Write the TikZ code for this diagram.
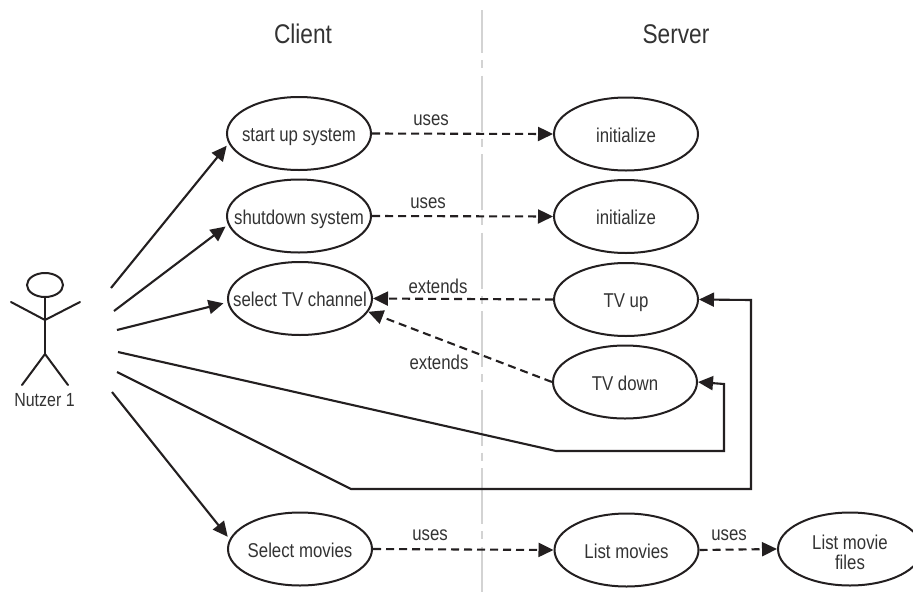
\documentclass[tikz,border=0pt]{standalone}
\usepackage{fontspec}
\setmainfont[FakeStretch=0.84]{Liberation Sans}
\usetikzlibrary{shapes.geometric,arrows.meta}
\definecolor{ink}{HTML}{231F20}
\definecolor{txt}{HTML}{333333}
\definecolor{divider}{HTML}{D3D3D3}
\tikzset{
  casebase/.style={draw=ink,ellipse,line width=2pt,minimum width=144pt,minimum height=73pt,inner sep=0pt},
  usecase/.style={casebase,label={[lbl,text height=18pt,text depth=2pt]center:#1}},
  usecasetwo/.style={casebase,label={[lbl,align=center,yshift=-3pt]center:#1}},
  lbl/.style={inner sep=0pt,font=\fontsize{20}{20}\selectfont,text=txt},
  heading/.style={inner sep=0pt,font=\fontsize{27}{30}\selectfont,text=txt},
  solidarrow/.style={draw=ink,line width=2.1pt,-{Triangle[length=15pt,width=14pt]}},
  dasharrow/.style={draw=ink,line width=2.1pt,dash pattern=on 8pt off 5pt,-{Triangle[length=15pt,width=14pt,sep=0pt]}},
  figure/.style={draw=ink,line width=2pt,line cap=round},
  dividerline/.style={draw=divider,line width=2.2pt,dash pattern=on 56pt off 7pt on 8pt off 7.5pt,dash phase=13pt}
}
\begin{document}
\begin{tikzpicture}[x=1pt,y=-1pt]
\useasboundingbox (0,0) rectangle (913,592);
\clip (0,0) rectangle (913,592);
\fill[white] (0,0) rectangle (913,592);
% divider
\coordinate (divtop) at (482,10);
\coordinate (divbot) at (482,592);
\draw[dividerline] (divtop) -- (divbot);
% headings
\node[heading] (client) at (303,34) {Client};
\node[heading] (server) at (676,34) {Server};
% use cases
\node[usecase={start up system}] (start) at (299,133.5) {};
\node[usecase={shutdown system}] (shut) at (299,216) {};
\node[usecase={select TV channel}] (select) at (300,298.5) {};
\node[usecase={Select movies}] (smovies) at (300,549) {};
\node[usecase={initialize}] (init1) at (626,134) {};
\node[usecase={initialize}] (init2) at (626,216.5) {};
\node[usecase={TV up}] (tvup) at (626,299.5) {};
\node[usecase={TV down}] (tvdown) at (625,382) {};
\node[usecase={List movies}] (lmovies) at (626.5,550) {};
\node[usecasetwo={List movie\\files}] (lfiles) at (850,549) {};
% actor
\node[draw=ink,ellipse,line width=2pt,minimum width=36pt,minimum height=24pt,inner sep=0pt] (head) at (45,285) {};
\coordinate (hip) at (45,354);
\coordinate (neck) at (45,320);
\coordinate (larm) at (11,302);
\coordinate (rarm) at (80,302);
\coordinate (lfoot) at (22,385);
\coordinate (rfoot) at (68,385);
\draw[figure] (head.south) -- (hip);
\draw[figure] (larm) -- (neck) -- (rarm);
\draw[figure] (lfoot) -- (hip) -- (rfoot);
\node[inner sep=0pt,font=\fontsize{19}{20}\selectfont,text=txt] (nutzer) at (44.5,400) {Nutzer 1};
% actor connectors
\coordinate (a1) at (111,288);
\coordinate (a2) at (114,311);
\coordinate (a3) at (117,330);
\coordinate (a4) at (118,352);
\coordinate (a5) at (117,372);
\coordinate (a6) at (112,392);
\coordinate (b4) at (556,451);
\coordinate (c4) at (724,451);
\coordinate (d4) at (724,384);
\coordinate (b5) at (351,489);
\coordinate (c5) at (751,489);
\coordinate (d5) at (751,300);
\draw[solidarrow,shorten >=3pt] (a1) -- (start.188);
\draw[solidarrow,shorten >=3pt] (a2) -- (shut.187);
\draw[solidarrow,shorten >=4pt] (a3) -- (select.183);
\draw[solidarrow] (a4) -- (b4) -- (c4) -- (d4) -- (tvdown.east);
\draw[solidarrow] (a5) -- (b5) -- (c5) -- (d5) -- (tvup.east);
\draw[solidarrow,shorten >=3pt] (a6) -- (smovies.172);
% dashed connectors
\draw[dasharrow] (start.east) -- (init1.west);
\draw[dasharrow] (shut.east) -- (init2.west);
\draw[dasharrow] (tvup.west) -- (select.east);
\draw[dasharrow] (tvdown.west) -- (select.-11);
\draw[dasharrow] (smovies.east) -- (lmovies.west);
\draw[dasharrow] (lmovies.east) -- (lfiles.west);
% labels
\node[lbl] (u1) at (431,120) {uses};
\node[lbl] (u2) at (428,203) {uses};
\node[lbl] (e1) at (438,286) {extends};
\node[lbl] (e2) at (439,362) {extends};
\node[lbl] (u3) at (430,535) {uses};
\node[lbl] (u4) at (729,535) {uses};
\end{tikzpicture}
\end{document}
